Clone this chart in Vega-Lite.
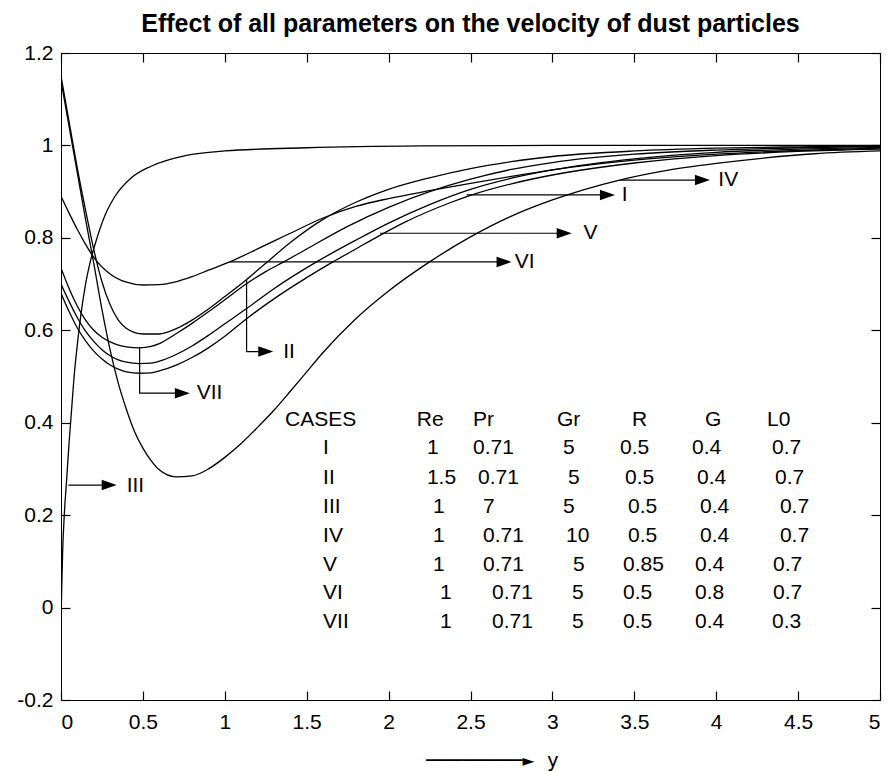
{
  "$schema": "https://vega.github.io/schema/vega-lite/v6.json",
  "width": 819,
  "height": 647,
  "padding": {"left": 16, "top": 12, "right": 4, "bottom": 4},
  "background": "white",
  "title": {"text": "Effect of all parameters on the velocity of dust particles", "font": "Liberation Sans", "fontSize": 25, "fontWeight": "bold", "color": "black", "offset": 5},
  "config": {
    "view": {"stroke": "black", "strokeWidth": 1},
    "axis": {"grid": false, "ticks": true, "domainColor": "black", "domainWidth": 1, "tickColor": "black", "tickWidth": 1.2, "tickSize": -9, "labelColor": "black", "labelFont": "Liberation Sans", "labelFontSize": 21, "titleColor": "black"}
  },
  "datasets": {
    "curves": [
      {"c":"III","x":0,"v":-0.03},{"c":"III","x":0.005,"v":0.05},{"c":"III","x":0.01,"v":0.12},{"c":"III","x":0.02,"v":0.2},{"c":"III","x":0.035,"v":0.28},{"c":"III","x":0.05,"v":0.36},{"c":"III","x":0.065,"v":0.43},{"c":"III","x":0.08,"v":0.5},{"c":"III","x":0.1,"v":0.57},{"c":"III","x":0.12,"v":0.63},{"c":"III","x":0.15,"v":0.7},{"c":"III","x":0.18,"v":0.75},{"c":"III","x":0.22,"v":0.8},{"c":"III","x":0.27,"v":0.85},{"c":"III","x":0.33,"v":0.89},{"c":"III","x":0.43,"v":0.93},{"c":"III","x":0.55,"v":0.955},{"c":"III","x":0.76,"v":0.978},{"c":"III","x":1.0,"v":0.988},{"c":"III","x":1.5,"v":0.995},{"c":"III","x":2.2,"v":0.999},{"c":"III","x":3,"v":1.0},{"c":"III","x":5,"v":1.0},
      {"c":"VI","x":0,"v":0.89},{"c":"VI","x":0.05,"v":0.853},{"c":"VI","x":0.1,"v":0.818},{"c":"VI","x":0.15,"v":0.786},{"c":"VI","x":0.2,"v":0.758},{"c":"VI","x":0.3,"v":0.722},{"c":"VI","x":0.4,"v":0.704},{"c":"VI","x":0.5,"v":0.698},{"c":"VI","x":0.6,"v":0.699},{"c":"VI","x":0.7,"v":0.705},{"c":"VI","x":0.8,"v":0.716},{"c":"VI","x":0.9,"v":0.73},{"c":"VI","x":1.03,"v":0.748},{"c":"VI","x":1.2,"v":0.776},{"c":"VI","x":1.4,"v":0.81},{"c":"VI","x":1.6,"v":0.843},{"c":"VI","x":1.8,"v":0.868},{"c":"VI","x":2.0,"v":0.885},{"c":"VI","x":2.25,"v":0.902},{"c":"VI","x":2.5,"v":0.918},{"c":"VI","x":2.75,"v":0.933},{"c":"VI","x":3.0,"v":0.947},{"c":"VI","x":3.5,"v":0.968},{"c":"VI","x":4.0,"v":0.981},{"c":"VI","x":4.5,"v":0.989},{"c":"VI","x":5.0,"v":0.994},
      {"c":"II","x":0,"v":1.15},{"c":"II","x":0.05,"v":1.05},{"c":"II","x":0.1,"v":0.95},{"c":"II","x":0.15,"v":0.86},{"c":"II","x":0.2,"v":0.775},{"c":"II","x":0.25,"v":0.705},{"c":"II","x":0.3,"v":0.655},{"c":"II","x":0.35,"v":0.622},{"c":"II","x":0.4,"v":0.604},{"c":"II","x":0.5,"v":0.592},{"c":"II","x":0.6,"v":0.592},{"c":"II","x":0.7,"v":0.603},{"c":"II","x":0.8,"v":0.622},{"c":"II","x":0.9,"v":0.646},{"c":"II","x":1.0,"v":0.673},{"c":"II","x":1.13,"v":0.709},{"c":"II","x":1.25,"v":0.745},{"c":"II","x":1.4,"v":0.79},{"c":"II","x":1.6,"v":0.84},{"c":"II","x":1.8,"v":0.877},{"c":"II","x":2.0,"v":0.905},{"c":"II","x":2.25,"v":0.93},{"c":"II","x":2.5,"v":0.95},{"c":"II","x":2.75,"v":0.965},{"c":"II","x":3.0,"v":0.976},{"c":"II","x":3.5,"v":0.988},{"c":"II","x":4.0,"v":0.994},{"c":"II","x":4.5,"v":0.997},{"c":"II","x":5.0,"v":0.999},
      {"c":"IV","x":0,"v":1.14},{"c":"IV","x":0.05,"v":1.04},{"c":"IV","x":0.1,"v":0.94},{"c":"IV","x":0.15,"v":0.84},{"c":"IV","x":0.2,"v":0.745},{"c":"IV","x":0.25,"v":0.645},{"c":"IV","x":0.3,"v":0.557},{"c":"IV","x":0.35,"v":0.485},{"c":"IV","x":0.4,"v":0.428},{"c":"IV","x":0.45,"v":0.38},{"c":"IV","x":0.5,"v":0.345},{"c":"IV","x":0.55,"v":0.318},{"c":"IV","x":0.6,"v":0.298},{"c":"IV","x":0.7,"v":0.283},{"c":"IV","x":0.8,"v":0.285},{"c":"IV","x":0.9,"v":0.3},{"c":"IV","x":1.0,"v":0.325},{"c":"IV","x":1.1,"v":0.355},{"c":"IV","x":1.2,"v":0.39},{"c":"IV","x":1.3,"v":0.427},{"c":"IV","x":1.4,"v":0.468},{"c":"IV","x":1.5,"v":0.51},{"c":"IV","x":1.6,"v":0.552},{"c":"IV","x":1.8,"v":0.625},{"c":"IV","x":2.0,"v":0.685},{"c":"IV","x":2.25,"v":0.748},{"c":"IV","x":2.5,"v":0.802},{"c":"IV","x":2.75,"v":0.847},{"c":"IV","x":3.0,"v":0.882},{"c":"IV","x":3.41,"v":0.925},{"c":"IV","x":3.7,"v":0.946},{"c":"IV","x":4.0,"v":0.961},{"c":"IV","x":4.3,"v":0.973},{"c":"IV","x":4.6,"v":0.982},{"c":"IV","x":5.0,"v":0.988},
      {"c":"VII","x":0,"v":0.735},{"c":"VII","x":0.05,"v":0.69},{"c":"VII","x":0.1,"v":0.652},{"c":"VII","x":0.15,"v":0.622},{"c":"VII","x":0.2,"v":0.6},{"c":"VII","x":0.25,"v":0.585},{"c":"VII","x":0.3,"v":0.575},{"c":"VII","x":0.35,"v":0.568},{"c":"VII","x":0.4,"v":0.564},{"c":"VII","x":0.48,"v":0.562},{"c":"VII","x":0.55,"v":0.565},{"c":"VII","x":0.6,"v":0.571},{"c":"VII","x":0.7,"v":0.592},{"c":"VII","x":0.8,"v":0.615},{"c":"VII","x":0.9,"v":0.64},{"c":"VII","x":1.0,"v":0.666},{"c":"VII","x":1.13,"v":0.7},{"c":"VII","x":1.25,"v":0.727},{"c":"VII","x":1.36,"v":0.748},{"c":"VII","x":1.5,"v":0.776},{"c":"VII","x":1.75,"v":0.825},{"c":"VII","x":2.0,"v":0.866},{"c":"VII","x":2.25,"v":0.9},{"c":"VII","x":2.5,"v":0.927},{"c":"VII","x":2.75,"v":0.948},{"c":"VII","x":3.0,"v":0.963},{"c":"VII","x":3.5,"v":0.981},{"c":"VII","x":4.0,"v":0.99},{"c":"VII","x":4.5,"v":0.995},{"c":"VII","x":5.0,"v":0.998},
      {"c":"I","x":0,"v":0.7},{"c":"I","x":0.05,"v":0.662},{"c":"I","x":0.1,"v":0.627},{"c":"I","x":0.15,"v":0.598},{"c":"I","x":0.2,"v":0.576},{"c":"I","x":0.25,"v":0.558},{"c":"I","x":0.3,"v":0.545},{"c":"I","x":0.35,"v":0.536},{"c":"I","x":0.4,"v":0.531},{"c":"I","x":0.48,"v":0.528},{"c":"I","x":0.55,"v":0.529},{"c":"I","x":0.6,"v":0.533},{"c":"I","x":0.7,"v":0.547},{"c":"I","x":0.8,"v":0.566},{"c":"I","x":0.9,"v":0.589},{"c":"I","x":1.0,"v":0.614},{"c":"I","x":1.133,"v":0.647},{"c":"I","x":1.3,"v":0.69},{"c":"I","x":1.56,"v":0.748},{"c":"I","x":1.8,"v":0.795},{"c":"I","x":2.0,"v":0.832},{"c":"I","x":2.25,"v":0.872},{"c":"I","x":2.5,"v":0.905},{"c":"I","x":2.75,"v":0.929},{"c":"I","x":3.0,"v":0.947},{"c":"I","x":3.5,"v":0.971},{"c":"I","x":4.0,"v":0.985},{"c":"I","x":4.5,"v":0.992},{"c":"I","x":5.0,"v":0.996},
      {"c":"V","x":0,"v":0.68},{"c":"V","x":0.05,"v":0.64},{"c":"V","x":0.1,"v":0.605},{"c":"V","x":0.15,"v":0.577},{"c":"V","x":0.2,"v":0.555},{"c":"V","x":0.25,"v":0.538},{"c":"V","x":0.3,"v":0.525},{"c":"V","x":0.35,"v":0.516},{"c":"V","x":0.4,"v":0.51},{"c":"V","x":0.48,"v":0.507},{"c":"V","x":0.55,"v":0.508},{"c":"V","x":0.6,"v":0.512},{"c":"V","x":0.7,"v":0.524},{"c":"V","x":0.8,"v":0.541},{"c":"V","x":0.9,"v":0.562},{"c":"V","x":1.0,"v":0.587},{"c":"V","x":1.133,"v":0.625},{"c":"V","x":1.3,"v":0.668},{"c":"V","x":1.5,"v":0.714},{"c":"V","x":1.66,"v":0.748},{"c":"V","x":1.8,"v":0.776},{"c":"V","x":1.95,"v":0.806},{"c":"V","x":2.1,"v":0.834},{"c":"V","x":2.375,"v":0.876},{"c":"V","x":2.5,"v":0.892},{"c":"V","x":2.75,"v":0.917},{"c":"V","x":3.0,"v":0.936},{"c":"V","x":3.5,"v":0.962},{"c":"V","x":4.0,"v":0.978},{"c":"V","x":4.5,"v":0.987},{"c":"V","x":5.0,"v":0.992}
    ],
    "arrows": [
      {"id":"VI","o":1,"x":1.03,"v":0.748},{"id":"VI","o":2,"x":2.705,"v":0.748},
      {"id":"V","o":1,"x":1.948,"v":0.81},{"id":"V","o":2,"x":3.072,"v":0.81},
      {"id":"I","o":1,"x":2.477,"v":0.893},{"id":"I","o":2,"x":3.336,"v":0.893},
      {"id":"IV","o":1,"x":3.413,"v":0.925},{"id":"IV","o":2,"x":3.916,"v":0.925},
      {"id":"II","o":1,"x":1.133,"v":0.709},{"id":"II","o":2,"x":1.133,"v":0.554},{"id":"II","o":3,"x":1.25,"v":0.554},
      {"id":"VII","o":1,"x":0.48,"v":0.564},{"id":"VII","o":2,"x":0.48,"v":0.464},{"id":"VII","o":3,"x":0.741,"v":0.464},
      {"id":"III","o":1,"x":0.045,"v":0.265},{"id":"III","o":2,"x":0.294,"v":0.265}
    ],
    "heads": [
      {"id":"VI","x":2.705,"v":0.748},{"id":"V","x":3.072,"v":0.81},{"id":"I","x":3.336,"v":0.893},{"id":"IV","x":3.916,"v":0.925},{"id":"II","x":1.25,"v":0.554},{"id":"VII","x":0.741,"v":0.464},{"id":"III","x":0.294,"v":0.265}
    ],
    "labels": [
      {"t":"VI","x":2.77,"v":0.748},{"t":"V","x":3.19,"v":0.81},{"t":"I","x":3.423,"v":0.893},{"t":"IV","x":4.013,"v":0.925},{"t":"II","x":1.357,"v":0.554},{"t":"VII","x":0.828,"v":0.464},{"t":"III","x":0.401,"v":0.262},
      {"t":"CASES","x":1.368,"v":0.406},{"t":"Re","x":2.172,"v":0.406},{"t":"Pr","x":2.515,"v":0.406},{"t":"Gr","x":3.028,"v":0.406},{"t":"R","x":3.486,"v":0.406},{"t":"G","x":3.932,"v":0.406},{"t":"L0","x":4.31,"v":0.406},
      {"t":"I","x":1.6,"v":0.346},{"t":"1","x":2.234,"v":0.346},{"t":"0.71","x":2.515,"v":0.346},{"t":"5","x":3.065,"v":0.346},{"t":"0.5","x":3.413,"v":0.346},{"t":"0.4","x":3.852,"v":0.346},{"t":"0.7","x":4.341,"v":0.346},
      {"t":"II","x":1.6,"v":0.281},{"t":"1.5","x":2.234,"v":0.281},{"t":"0.71","x":2.546,"v":0.281},{"t":"5","x":3.095,"v":0.281},{"t":"0.5","x":3.443,"v":0.281},{"t":"0.4","x":3.883,"v":0.281},{"t":"0.7","x":4.359,"v":0.281},
      {"t":"III","x":1.6,"v":0.218},{"t":"1","x":2.271,"v":0.218},{"t":"7","x":2.576,"v":0.218},{"t":"5","x":3.065,"v":0.218},{"t":"0.5","x":3.462,"v":0.218},{"t":"0.4","x":3.901,"v":0.218},{"t":"0.7","x":4.389,"v":0.218},
      {"t":"IV","x":1.6,"v":0.155},{"t":"1","x":2.271,"v":0.155},{"t":"0.71","x":2.576,"v":0.155},{"t":"10","x":3.083,"v":0.155},{"t":"0.5","x":3.462,"v":0.155},{"t":"0.4","x":3.901,"v":0.155},{"t":"0.7","x":4.389,"v":0.155},
      {"t":"V","x":1.6,"v":0.092},{"t":"1","x":2.271,"v":0.092},{"t":"0.71","x":2.576,"v":0.092},{"t":"5","x":3.126,"v":0.092},{"t":"0.85","x":3.431,"v":0.092},{"t":"0.4","x":3.871,"v":0.092},{"t":"0.7","x":4.347,"v":0.092},
      {"t":"VI","x":1.6,"v":0.031},{"t":"1","x":2.314,"v":0.031},{"t":"0.71","x":2.631,"v":0.031},{"t":"5","x":3.12,"v":0.031},{"t":"0.5","x":3.431,"v":0.031},{"t":"0.8","x":3.871,"v":0.031},{"t":"0.7","x":4.347,"v":0.031},
      {"t":"VII","x":1.6,"v":-0.031},{"t":"1","x":2.314,"v":-0.031},{"t":"0.71","x":2.631,"v":-0.031},{"t":"5","x":3.12,"v":-0.031},{"t":"0.5","x":3.431,"v":-0.031},{"t":"0.4","x":3.871,"v":-0.031},{"t":"0.3","x":4.341,"v":-0.031}
    ]
  },
  "layer": [
    {
      "data": {"name": "curves"},
      "mark": {"type": "line", "color": "black", "strokeWidth": 1.3, "interpolate": "monotone", "clip": true},
      "encoding": {
        "x": {"field": "x", "type": "quantitative", "scale": {"domain": [0, 5], "nice": false, "zero": false},
          "axis": {"orient": "bottom", "values": [0,0.5,1,1.5,2,2.5,3,3.5,4,4.5,5], "format": "~g", "tickSize": -9, "labelPadding": 20, "title": "────────►  y", "titleFont": "DejaVu Sans Mono", "titleFontSize": 20, "titleFontWeight": "normal", "titlePadding": 18, "titleX": 431}},
        "y": {"field": "v", "type": "quantitative", "scale": {"domain": [-0.2, 1.2], "nice": false, "zero": false},
          "axis": {"orient": "left", "values": [-0.2,0,0.2,0.4,0.6,0.8,1,1.2], "format": "~g", "labelExpr": "replace(datum.label, '−', '-')", "tickSize": -9, "labelPadding": 17, "title": null}},
        "detail": {"field": "c"}
      }
    },
    {
      "data": {"name": "arrows"},
      "mark": {"type": "line", "color": "black", "strokeWidth": 1.2},
      "encoding": {
        "x": {"field": "x", "type": "quantitative", "scale": {"domain": [0, 5], "nice": false, "zero": false},
          "axis": {"orient": "top", "values": [0,0.5,1,1.5,2,2.5,3,3.5,4,4.5,5], "tickSize": -9, "labels": false, "title": null}},
        "y": {"field": "v", "type": "quantitative", "scale": {"domain": [-0.2, 1.2], "nice": false, "zero": false},
          "axis": {"orient": "right", "values": [-0.2,0,0.2,0.4,0.6,0.8,1,1.2], "tickSize": -9, "labels": false, "title": null}},
        "detail": {"field": "id"},
        "order": {"field": "o"}
      }
    },
    {
      "data": {"name": "heads"},
      "mark": {"type": "point", "shape": "M-1,-0.7L1,0L-1,0.7Z", "filled": true, "color": "black", "opacity": 1, "size": 225},
      "encoding": {
        "x": {"field": "x", "type": "quantitative", "scale": {"domain": [0, 5], "nice": false, "zero": false}, "axis": null},
        "y": {"field": "v", "type": "quantitative", "scale": {"domain": [-0.2, 1.2], "nice": false, "zero": false}, "axis": null}
      }
    },
    {
      "data": {"name": "labels"},
      "mark": {"type": "text", "align": "left", "baseline": "middle", "font": "Liberation Sans", "fontSize": 21, "color": "black"},
      "encoding": {
        "x": {"field": "x", "type": "quantitative", "scale": {"domain": [0, 5], "nice": false, "zero": false}, "axis": null},
        "y": {"field": "v", "type": "quantitative", "scale": {"domain": [-0.2, 1.2], "nice": false, "zero": false}, "axis": null},
        "text": {"field": "t"}
      }
    }
  ],
  "resolve": {"axis": {"x": "independent", "y": "independent"}}
}
